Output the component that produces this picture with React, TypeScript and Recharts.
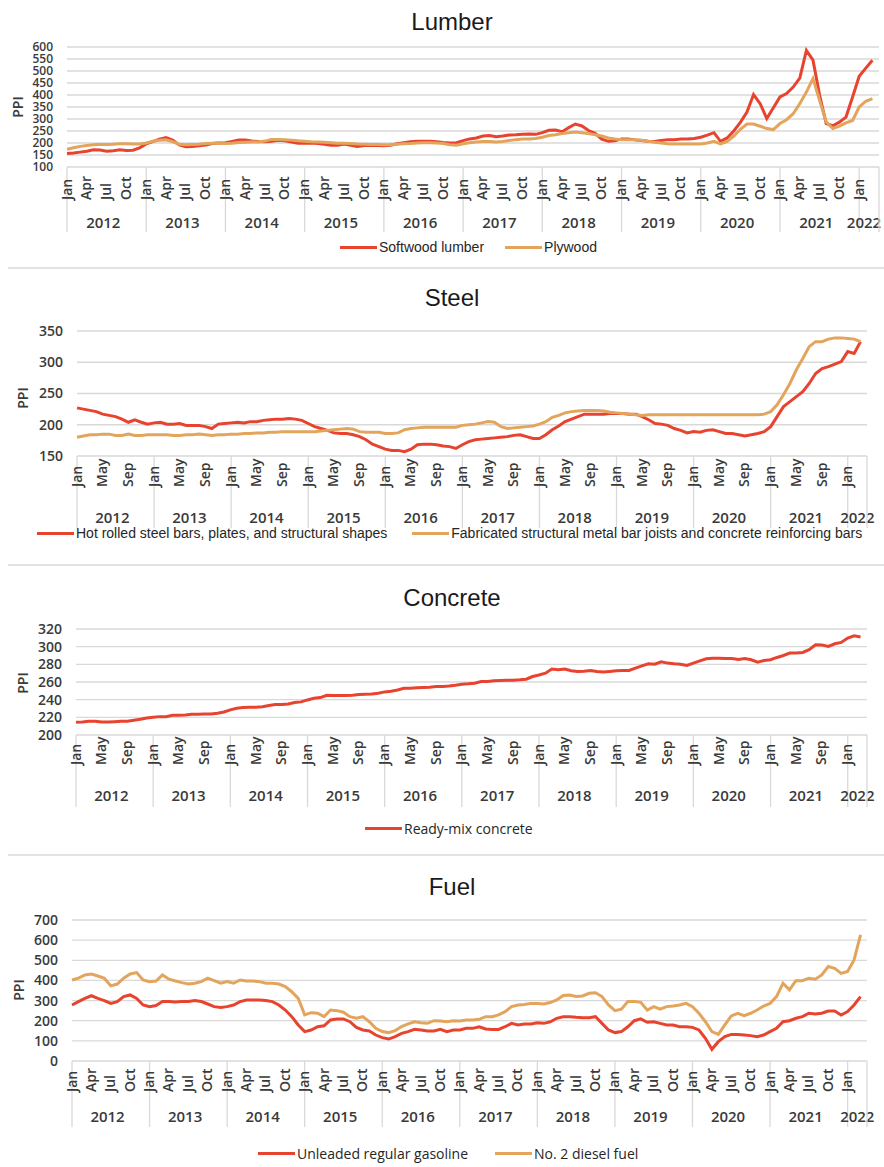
import React from 'react';
import { LineChart, Line, XAxis, YAxis, CartesianGrid, Legend } from 'recharts';

// monthly PPI, Jan 2012 .. Mar 2022 (123 points), one line per year
const MONTHS = ['Jan', 'Feb', 'Mar', 'Apr', 'May', 'Jun', 'Jul', 'Aug', 'Sep', 'Oct', 'Nov', 'Dec'];
const YEARS = [2012, 2013, 2014, 2015, 2016, 2017, 2018, 2019, 2020, 2021, 2022];

const softwoodLumber = [
  156, 158, 162, 166, 172, 171, 166, 168, 172, 169, 170, 180,
  196, 206, 216, 223, 212, 192, 184, 185, 188, 192, 198, 200,
  201, 206, 212, 212, 208, 206, 205, 207, 211, 209, 204, 199,
  199, 200, 198, 195, 191, 191, 196, 190, 185, 190, 191, 190,
  189, 191, 197, 201, 205, 207, 207, 207, 205, 202, 200, 201,
  210, 217, 221, 229, 231, 226, 229, 233, 234, 236, 237, 236,
  243, 253, 254, 247, 264, 279, 271, 252, 240, 216, 207, 209,
  217, 217, 213, 210, 207, 206, 210, 214, 214, 217, 217, 219,
  224, 233, 243, 207, 221, 250, 286, 329, 402, 364, 302, 347,
  392, 406, 433, 470, 586, 545, 400, 281, 272, 287, 308, 392,
  478, 512, 545,
];
const plywood = [
  174, 180, 186, 190, 193, 194, 194, 195, 197, 197, 196, 196,
  200, 207, 211, 213, 205, 195, 193, 194, 195, 198, 199, 200,
  198, 199, 202, 203, 204, 204, 208, 215, 215, 214, 212, 209,
  207, 205, 204, 203, 201, 199, 199, 198, 196, 195, 194, 194,
  193, 193, 195, 197, 198, 200, 201, 201, 200, 198, 193, 191,
  197, 201, 204, 206, 206, 204, 206, 210, 214, 217, 217, 219,
  224, 231, 234, 239, 243, 246, 243, 239, 234, 229, 221, 217,
  214, 214, 214, 211, 207, 203, 200, 197, 196, 196, 196, 196,
  196, 200, 207, 196, 207, 229, 257, 279, 279, 270, 260, 256,
  281, 297, 322, 364, 412, 468, 378, 288, 260, 270, 284, 294,
  350, 374, 385,
];

const hotRolledSteel = [
  227, 225, 223, 221, 217, 215, 213, 209, 204, 208, 204, 201,
  203, 204, 201, 201, 202, 199, 199, 199, 197, 194, 201, 202,
  203, 204, 203, 205, 205, 207, 208, 209, 209, 210, 209, 207,
  202, 197, 194, 191, 187, 186, 186, 184, 181, 176, 169, 165,
  161, 159, 159, 157, 161, 168, 169, 169, 168, 166, 165, 162,
  168, 173, 176, 177, 178, 179, 180, 181, 183, 184, 181, 178,
  178, 184, 192, 198, 205, 209, 213, 217, 217, 217, 217, 218,
  218, 218, 217, 217, 213, 208, 202, 201, 199, 194, 191, 187,
  189, 188, 191, 192, 189, 186, 186, 184, 182, 184, 186, 189,
  197, 213, 229, 237, 245, 253, 266, 282, 290, 293, 297, 301,
  317, 314, 333,
];
const fabricatedMetal = [
  180, 182, 184, 184, 185, 185, 183, 183, 185, 183, 183, 184,
  184, 184, 184, 183, 183, 184, 184, 185, 184, 183, 184, 184,
  185, 185, 186, 186, 187, 187, 188, 188, 189, 189, 189, 189,
  189, 189, 190, 191, 192, 193, 194, 193, 189, 188, 188, 188,
  186, 186, 187, 192, 194, 195, 196, 196, 196, 196, 196, 196,
  199, 200, 201, 203, 205, 204, 197, 194, 195, 196, 197, 198,
  201, 205, 212, 215, 219, 221, 222, 223, 223, 223, 222, 220,
  219, 218, 217, 216, 215, 216, 216, 216, 216, 216, 216, 216,
  216, 216, 216, 216, 216, 216, 216, 216, 216, 216, 216, 217,
  221, 232, 248, 266, 288, 306, 325, 333, 333, 337, 339, 339,
  338, 337, 333,
];

const readyMixConcrete = [
  214.4, 214.8, 215.5, 215.5, 214.8, 214.8, 215.1, 215.5, 215.5, 216.7, 217.8, 219.3,
  220.0, 220.8, 220.8, 222.3, 222.3, 222.7, 223.5, 223.5, 223.8, 223.8, 224.6, 226.0,
  228.4, 230.3, 231.0, 231.4, 231.4, 232.0, 233.3, 234.4, 234.4, 235.2, 236.7, 237.5,
  239.7, 241.6, 242.4, 245.0, 244.7, 244.7, 244.7, 245.0, 245.8, 246.2, 246.5, 247.3,
  248.8, 249.6, 251.0, 253.0, 253.0, 253.4, 253.7, 254.0, 255.0, 255.0, 255.6, 256.4,
  257.5, 257.9, 258.7, 260.6, 260.6, 261.3, 261.7, 262.0, 262.0, 262.5, 263.2, 266.2,
  268.0, 270.0, 274.6, 273.8, 274.6, 272.7, 272.0, 272.3, 273.0, 272.0, 271.2, 272.0,
  272.7, 273.0, 273.0, 275.7, 278.3, 280.6, 280.2, 282.9, 281.4, 280.6, 280.2, 278.7,
  281.4, 284.0, 286.3, 287.0, 287.0, 286.7, 286.7, 285.5, 286.7, 285.2, 282.5, 284.4,
  285.2, 287.8, 290.0, 292.7, 292.7, 293.5, 296.5, 302.2, 301.8, 300.3, 303.3, 304.8,
  309.8, 312.4, 310.9,
];

const unleadedGasoline = [
  278, 295, 311, 324, 311, 300, 286, 295, 320, 328, 311, 278,
  270, 275, 295, 295, 293, 295, 295, 300, 295, 283, 270, 266,
  270, 278, 295, 303, 303, 303, 300, 295, 278, 253, 220, 179,
  146, 154, 170, 175, 204, 209, 209, 195, 167, 154, 149, 129,
  116, 109, 121, 137, 146, 157, 154, 149, 149, 157, 146, 154,
  154, 162, 162, 170, 159, 157, 157, 170, 187, 179, 184, 184,
  190, 187, 195, 212, 220, 220, 217, 215, 215, 220, 187, 154,
  141, 146, 170, 200, 209, 192, 195, 187, 179, 179, 170, 170,
  167, 154, 113, 58, 96, 121, 132, 132, 129, 126, 121, 129,
  146, 162, 195, 200, 212, 220, 237, 233, 237, 248, 248, 228,
  245, 278, 320,
];
const dieselFuel = [
  402, 411, 427, 432, 422, 411, 373, 382, 411, 432, 439, 402,
  394, 397, 427, 406, 397, 389, 382, 386, 394, 411, 399, 386,
  394, 386, 402, 397, 397, 394, 386, 386, 382, 369, 344, 311,
  229, 240, 237, 220, 253, 250, 242, 220, 212, 220, 195, 162,
  146, 141, 151, 171, 184, 195, 190, 187, 200, 199, 195, 200,
  199, 204, 204, 207, 220, 220, 229, 245, 270, 278, 281, 286,
  286, 283, 290, 303, 325, 328, 320, 323, 336, 339, 320, 278,
  250, 257, 295, 295, 291, 253, 270, 257, 270, 273, 278, 286,
  270, 237, 195, 146, 132, 179, 224, 237, 225, 237, 253, 273,
  286, 320, 386, 353, 399, 399, 411, 406, 427, 469, 460, 435,
  444, 502, 626,
];

const RED = '#e8432e';
const TAN = '#e3a45c';
const GRID = '#d9d9d9';
const AXIS_FONT = '"Open Sans", "DejaVu Sans", sans-serif';
const ARIAL = '"Liberation Sans", Arial, sans-serif';
const LAST = 123; // axis runs one slot past Mar 2022

const xTicks = (every: number) => {
  const t = new Set<number>();
  for (let m = 0; m < softwoodLumber.length; m += every) t.add(m);
  YEARS.forEach((_, k) => {
    t.add(k * 12);
    t.add(k * 12 + (k === YEARS.length - 1 ? 1.5 : 5.5));
  });
  t.add(LAST);
  return Array.from(t).sort((a, b) => a - b);
};

type XCfg = { every: number; monthBottom: number; yearY: number; sepLen: number };

const makeXTick = (cfg: XCfg) => (props: any) => {
  const { x, y, payload } = props;
  const v = payload.value as number;
  if (!Number.isInteger(v)) {
    return (
      <text x={Math.min(x, 864)} y={y + cfg.yearY} textAnchor="middle" dominantBaseline="central"
        fontFamily={AXIS_FONT} fontSize={15} fontWeight={600} fill="#3a3a3a">
        {YEARS[Math.floor(v / 12)]}
      </text>
    );
  }
  return (
    <g>
      {(v % 12 === 0 || v === LAST) && (
        <line x1={x} x2={x} y1={y} y2={y + cfg.sepLen} stroke={GRID} strokeWidth={1.3} />
      )}
      {v < LAST && v % cfg.every === 0 && (
        <text transform={`translate(${x + 4.5},${y + cfg.monthBottom}) rotate(-90)`} textAnchor="start"
          fontFamily={AXIS_FONT} fontSize={14} fontWeight={600} fill="#3a3a3a">
          {MONTHS[v % 12]}
        </text>
      )}
    </g>
  );
};

type Item = { key: string; label: string; color: string };

const LegendRow = ({ items, font, size, gap }: { items: Item[]; font: string; size: number; gap: number }) => (
  <div style={{ display: 'flex', alignItems: 'center', fontFamily: font, fontSize: size, color: '#262626', whiteSpace: 'nowrap' }}>
    {items.map((it, k) => (
      <div key={it.key} style={{ display: 'flex', alignItems: 'center', marginLeft: k ? gap : 0 }}>
        <span style={{ display: 'inline-block', width: 37, height: 3, background: it.color, marginRight: 2 }} />
        <span>{it.label}</span>
      </div>
    ))}
  </div>
);

type PanelProps = {
  top: number; height: number; title: string; titleY: number;
  rows: any[]; items: Item[];
  yDomain: [number, number]; yTicks: number[]; yFont: number;
  margin: { top: number; right: number; bottom: number; left: number };
  xCfg: XCfg; ppi: [number, number];
  legend: { x: number; y: number; font: string; size: number; gap: number };
};

function Panel(p: PanelProps) {
  return (
    <div style={{ position: 'absolute', left: 0, top: p.top, width: 884, height: p.height }}>
      <div style={{ position: 'absolute', left: 0, width: 904, top: p.titleY - 15, lineHeight: '30px', textAlign: 'center', fontFamily: ARIAL, fontSize: 24, color: '#1a1a1a' }}>
        {p.title}
      </div>
      <LineChart width={884} height={p.height} data={p.rows} margin={p.margin}>
        <CartesianGrid horizontal vertical={false} stroke={GRID} strokeWidth={1.3} />
        <XAxis dataKey="i" type="number" domain={[0, LAST]} ticks={xTicks(p.xCfg.every)} interval={0}
          height={80} axisLine={false} tickLine={false} tickSize={0} tickMargin={0} tick={makeXTick(p.xCfg)} />
        <YAxis type="number" domain={p.yDomain} ticks={p.yTicks} interval={0} width={55}
          axisLine={false} tickLine={false} tickSize={0} tickMargin={14}
          tick={{ fontFamily: AXIS_FONT, fontSize: p.yFont, fontWeight: 600, fill: '#3a3a3a' }}
          label={() => (
            <text transform={`translate(${p.ppi[0]},${p.ppi[1]}) rotate(-90)`} textAnchor="middle" dominantBaseline="central"
              fontFamily={AXIS_FONT} fontSize={14} fontWeight={600} fill="#3a3a3a">PPI</text>
          )} />
        <Legend verticalAlign="middle" align="center"
          wrapperStyle={{ left: p.legend.x, top: p.legend.y - 11, width: 'auto', height: 22 }}
          content={() => <LegendRow items={p.items} font={p.legend.font} size={p.legend.size} gap={p.legend.gap} />} />
        {p.items.map((it) => (
          <Line key={it.key} dataKey={it.key} name={it.label} type="linear" stroke={it.color} strokeWidth={3}
            dot={false} activeDot={false} isAnimationActive={false} />
        ))}
      </LineChart>
    </div>
  );
}

const range = (a: number, b: number, s: number) => {
  const out: number[] = [];
  for (let v = a; v <= b; v += s) out.push(v);
  return out;
};

const lumberRows = softwoodLumber.map((v, i) => ({ i, softwood: v, plywood: plywood[i] }));
const steelRows = hotRolledSteel.map((v, i) => ({ i, hot: v, fab: fabricatedMetal[i] }));
const concreteRows = readyMixConcrete.map((v, i) => ({ i, ready: v }));
const fuelRows = unleadedGasoline.map((v, i) => ({ i, gas: v, diesel: dieselFuel[i] }));

export default function App() {
  return (
    <div style={{ position: 'absolute', left: 0, top: 0, width: 884, height: 1167, background: '#fff', overflow: 'hidden' }}>
      <Panel top={0} height={268} title="Lumber" titleY={22} rows={lumberRows}
        items={[{ key: 'softwood', label: 'Softwood lumber', color: RED }, { key: 'plywood', label: 'Plywood', color: TAN }]}
        yDomain={[100, 600]} yTicks={range(100, 600, 50)} yFont={12}
        margin={{ top: 47, right: 5, bottom: 21, left: 12 }}
        xCfg={{ every: 3, monthBottom: 33, yearY: 55, sepLen: 65 }} ppi={[17, 107]}
        legend={{ x: 340, y: 250, font: ARIAL, size: 14, gap: 21 }} />
      <div style={{ position: 'absolute', left: 8, top: 267, width: 876, height: 2, background: '#e2e2e2' }} />
      <Panel top={268} height={297} title="Steel" titleY={30} rows={steelRows}
        items={[
          { key: 'hot', label: 'Hot rolled steel bars, plates, and structural shapes', color: RED },
          { key: 'fab', label: 'Fabricated structural metal bar joists and concrete reinforcing bars', color: TAN },
        ]}
        yDomain={[150, 350]} yTicks={range(150, 350, 50)} yFont={14}
        margin={{ top: 63, right: 17, bottom: 29, left: 22 }}
        xCfg={{ every: 4, monthBottom: 31, yearY: 61, sepLen: 72 }} ppi={[22, 130]}
        legend={{ x: 37, y: 268, font: ARIAL, size: 14, gap: 25 }} />
      <div style={{ position: 'absolute', left: 8, top: 564, width: 876, height: 2, background: '#e2e2e2' }} />
      <Panel top={565} height={290} title="Concrete" titleY={33} rows={concreteRows}
        items={[{ key: 'ready', label: 'Ready-mix concrete', color: RED }]}
        yDomain={[200, 320]} yTicks={range(200, 320, 20)} yFont={14}
        margin={{ top: 64, right: 17, bottom: 40, left: 21 }}
        xCfg={{ every: 4, monthBottom: 30, yearY: 60, sepLen: 72 }} ppi={[22, 118]}
        legend={{ x: 365, y: 265, font: AXIS_FONT, size: 14, gap: 25 }} />
      <div style={{ position: 'absolute', left: 8, top: 854, width: 876, height: 2, background: '#e2e2e2' }} />
      <Panel top={855} height={312} title="Fuel" titleY={32} rows={fuelRows}
        items={[{ key: 'gas', label: 'Unleaded regular gasoline', color: RED }, { key: 'diesel', label: 'No. 2 diesel fuel', color: TAN }]}
        yDomain={[0, 700]} yTicks={range(0, 700, 100)} yFont={14}
        margin={{ top: 65, right: 17, bottom: 26, left: 17 }}
        xCfg={{ every: 3, monthBottom: 31, yearY: 55, sepLen: 66 }} ppi={[18, 135]}
        legend={{ x: 258, y: 300, font: AXIS_FONT, size: 14, gap: 27 }} />
    </div>
  );
}
